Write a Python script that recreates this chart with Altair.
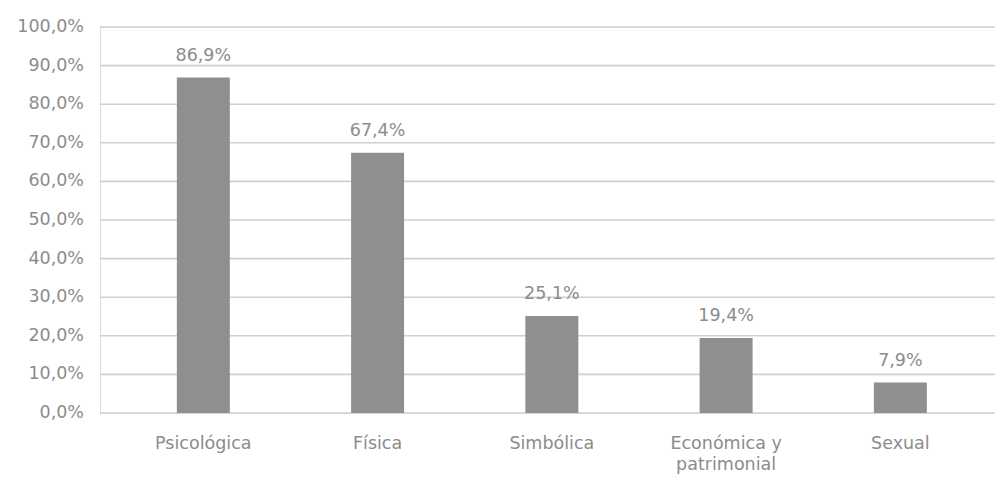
import altair as alt
import pandas as pd

categorias = ["Psicológica", "Física", "Simbólica", "Económica y patrimonial", "Sexual"]
valores = [86.9, 67.4, 25.1, 19.4, 7.9]
etiquetas = ["86,9%", "67,4%", "25,1%", "19,4%", "7,9%"]
marcas_y = [0, 10, 20, 30, 40, 50, 60, 70, 80, 90, 100]
etiquetas_y = ["0,0%", "10,0%", "20,0%", "30,0%", "40,0%", "50,0%",
               "60,0%", "70,0%", "80,0%", "90,0%", "100,0%"]

df = pd.DataFrame({"cat": categorias, "val": valores, "lab": etiquetas})
dg = pd.DataFrame({"val": marcas_y, "lab": etiquetas_y})

FONT = "DejaVu Sans"
TXT = "#8c8c8c"
FS = 17.5
W, H = 895, 386

x = alt.X(
    "cat:N",
    sort=categorias,
    title=None,
    scale=alt.Scale(paddingInner=0.696, paddingOuter=0.416, align=0.53),
    axis=alt.Axis(
        labelAngle=0,
        labelFont=FONT,
        labelFontSize=FS,
        labelColor=TXT,
        labelPadding=21,
        labelLineHeight=21,
        labelBaseline="top",
        ticks=False,
        domain=False,
        grid=False,
        labelExpr="datum.label == 'Económica y patrimonial' ? ['Económica y', 'patrimonial'] : datum.label",
    ),
)

yscale = alt.Scale(domain=[0, 100], nice=False)
y = alt.Y("val:Q", title=None, scale=yscale, axis=None)

grid = alt.Chart(dg).mark_rule(color="#d0d0d0", strokeWidth=1.6).encode(
    y=y, x=alt.value(0), x2=alt.value(W)
)
ylabels = alt.Chart(dg).mark_text(
    font=FONT, fontSize=FS, color=TXT, align="right", baseline="middle"
).encode(y=y, x=alt.value(-16), text="lab:N")

bars = alt.Chart(df).mark_bar(color="#8f8f8f").encode(x=x, y=y)
text = alt.Chart(df).mark_text(
    font=FONT, fontSize=FS, color=TXT, baseline="alphabetic", dy=-17
).encode(x=x, y=y, text="lab:N")

chart = (
    alt.layer(grid, ylabels, bars, text)
    .properties(
        width=W,
        height=H,
        autosize=alt.AutoSizeParams(type="none"),
        padding={"left": 92, "top": 19, "right": 0, "bottom": 62},
    )
    .configure_view(stroke=None)
    .configure(background="white")
)

chart.save("out.html", embed_options={"renderer": "svg", "actions": False})
